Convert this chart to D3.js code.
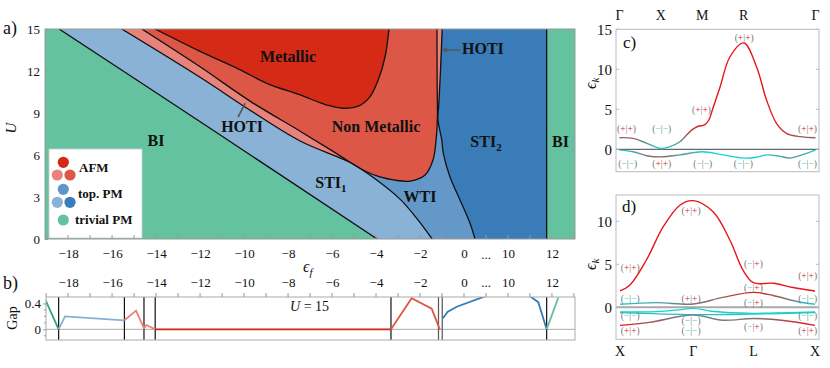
<!DOCTYPE html>
<html><head><meta charset="utf-8">
<script src="https://cdn.jsdelivr.net/npm/d3@7"></script>
<style>body{margin:0;background:#fff}svg{display:block}text{font-family:"Liberation Serif",serif;fill:#111}</style>
</head><body><svg id="c" width="830" height="368"></svg>
<script>
// ---------- DATA ----------
const epsTicks = [-18,-16,-14,-12,-10,-8,-6,-4,-2,0,10,12];
const epsMinor = [-19,-18,-17,-16,-15,-14,-13,-12,-11,-10,-9,-8,-7,-6,-5,-4,-3,-2,-1,0,1,10,11,12,13];
const uTicks = [0,3,6,9,12,15];
const gapTicks = [0,0.4];
const gapMinor = [-0.1,0.1,0.2,0.3];

// phase boundaries (eps_f, U)
const bndA = [[-18.41,15],[-11.2,7.55],[-3.95,0]];
const bndB = [[-15.56,15],[-12.0,11.55],[-9.73,9.2],[-7.45,7.0],[-5.15,5.45]];
const bndB2 = [[-4.41,4.71],[-2.91,2.85],[-2.14,1.45],[-1.45,0]];
const bndC = [[-14.65,15],[-12.0,12.3],[-9.73,9.85],[-7.45,7.7],[-6.1,6.4],[-5.15,5.45]];
const bndD = [[-14.05,15],[-12.0,13.4],[-10.2,12.1],[-8.97,11.12],[-7.45,10.29],[-6.24,9.57],[-5.5,9.34],[-4.73,9.55],[-4.27,10.17],[-3.9,11.36],[-3.59,13.0],[-3.41,15]];
const bndRedLow = [[-5.15,5.45],[-4.5,4.86],[-3.82,4.43],[-3.14,4.2],[-2.45,4.14],[-1.77,4.57],[-1.41,5.64],[-1.27,7.07],[-1.21,8.6]];
const bndRedHigh = [[-1.21,8.6],[-1.22,11],[-1.23,15]];
const bndSTI2Top = [[-0.99,15],[-1.07,12],[-1.15,9.5],[-1.19,8.6]];
const bndSTI2Bot = [[-1.19,8.6],[-1.01,7.07],[-0.94,6.12],[-0.64,4.45],[-0.18,2.79],[0.27,1.14],[0.5,0]];
const bndBIright = 11.76;

const regionLabels = [
  {t:"Metallic", e:-8.0, u:12.64},
  {t:"Non Metallic", e:-4.0, u:7.64},
  {t:"STI", s:"2", e:1.0, u:6.57},
  {t:"BI", e:12.39, u:6.57},
  {t:"BI", e:-14.0, u:6.64},
  {t:"HOTI", e:-10.09, u:7.64},
  {t:"HOTI", e:0.86, u:13.21},
  {t:"STI", s:"1", e:-6.05, u:3.64},
  {t:"WTI", e:-2.0, u:2.64}
];

// gap at U = 15
const gapGreenL = [[-19.05,0.47],[-18.43,0]];
const gapBlueL = [[-18.43,0],[-18.14,0.2],[-15.44,0.14]];
const gapPink = [[-15.44,0.14],[-14.91,0.29],[-14.55,0.015],[-14.44,0.066],[-14.04,0]];
const gapMet = [[-14.04,0],[-3.32,0]];
const gapRed = [[-3.32,0],[-2.38,0.48],[-1.47,0.32],[-1.1,0]];
const gapBlue2 = [[-0.96,0.17],[-0.75,0.27],[-0.33,0.35],[0.95,0.51]];
const gapBlue3 = [[11.0,0.51],[11.38,0.42],[11.76,0]];
const gapGreenR = [[11.76,0],[12.29,0.49]];
const gapDividers = [-18.43,-15.44,-14.55,-14.04,-3.32,-1.16,-0.99,11.76];

// band structures [k, E, redWeight]
const kLabelsC = ["Γ","X","M","R","Γ"];
const kPosC = [0,1,2,3,4.732];
const bandC1 = [[0,1.45,0.62],[0.33,1.37,0.55],[0.66,0.75,0.3],[1.0,0.1,0],[1.2,0.3,0.1],[1.46,0.95,0.35],[1.74,2.4,0.8],[1.9,2.88,1],[2.05,3.05,1],[2.15,3.6,1],[2.26,5.2,1],[2.43,7.83,1],[2.67,11.6,1],[3.0,13.3,1],[3.31,10.3,1],[3.55,6.16,1],[3.79,3.25,0.95],[4.03,2.0,0.8],[4.36,1.58,0.65],[4.732,1.45,0.62]];
const bandC2 = [[0,-0.1,0],[0.33,-0.3,0.2],[0.66,-0.8,0.5],[1.0,-0.95,0.6],[1.46,-0.7,0.3],[2.0,-0.3,0],[2.5,-0.7,0],[3.0,-1.1,0],[3.3,-1.0,0],[3.55,-0.7,0.05],[3.85,-0.85,0.2],[4.11,-1.1,0.4],[4.4,-0.7,0.2],[4.732,-0.1,0]];
const parityC = [[0.17,2.6,"+","+"],[1.02,2.6,"−","−"],[1.98,5.0,"+","+"],[3.01,13.9,"+","+"],[4.54,2.6,"+","+"],
  [0.2,-1.84,"−","−"],[1.02,-1.84,"+","+"],[2.01,-1.84,"−","−"],[2.99,-1.84,"−","−"],[4.54,-1.84,"−","−"]];
const yTicksC = [0,5,10,15];

const kLabelsD = ["X","Γ","L","X"];
const kPosD = [0,1,1.82,2.66];
const bandD1 = [[0,1.9,1],[0.136,2.6,1],[0.36,5.5,1],[0.59,9.37,1],[0.82,11.9,1],[1.0,12.4,1],[1.27,11.1,1],[1.5,7.8,1],[1.68,4.3,1],[1.82,2.86,1],[2.09,2.8,1],[2.36,2.3,1],[2.66,1.9,1]];
const bandD2 = [[0,0.35,0],[0.5,0.55,0.25],[1.0,0.38,0.5],[1.4,1.15,0.6],[1.82,1.74,1],[2.1,1.35,0.7],[2.4,0.7,0.3],[2.66,0.35,0]];
const bandD3 = [[0,-0.55,0],[0.5,-0.5,0],[0.8,-0.3,0],[1.0,-0.12,0],[1.25,-0.45,0],[1.82,-0.7,0],[2.3,-0.62,0],[2.66,-0.55,0]];
const bandD5 = [[0,-0.62,0.05],[1.0,-0.85,0.15],[1.82,-0.78,0.05],[2.66,-0.62,0.05]];
const bandD4 = [[0,-2.1,1],[0.4,-1.75,0.7],[1.0,-0.9,0.3],[1.4,-1.5,0.45],[1.82,-1.3,0.5],[2.2,-1.5,0.7],[2.66,-2.1,1]];
const parityD = [[0.14,4.65,"+","+"],[0.97,11.23,"+","+"],[1.82,5.03,"−","+"],[2.56,3.67,"+","+"],[1.82,2.33,"−","+"],
  [0.14,0.97,"−","−"],[0.97,1.05,"+","+"],[1.82,0.58,"−","+"],[2.56,0.97,"−","−"],
  [0.14,-1.01,"−","−"],[0.97,-1.56,"−","−"],[1.82,-2.26,"−","+"],[2.56,-1.01,"−","−"],
  [0.14,-2.72,"+","+"],[0.97,-2.72,"−","−"],[2.56,-2.72,"+","+"]];
const yTicksD = [0,5,10];

// ---------- STYLE ----------
const COL = {green:"#64c2a0", sti1:"#89b2d6", wti:"#6498c8", sti2:"#3a7cb8", hoti:"#e8827a", nonmet:"#dd5747", met:"#d42a16"};
const RED = "#e5161c", CYAN = "#19d0d0", PGRAY = "#777";
const bandColor = d3.interpolateRgb(CYAN, RED);

const svg = d3.select("#c");
const defs = svg.append("defs");

// ---------- PANEL A ----------
const xA = d3.scaleLinear().domain([-19.05,1,9,13.05]).range([45,486,486,575]);
const yA = d3.scaleLinear().domain([0,15]).range([239,29]);
const lg = d3.line().x(d=>xA(d[0])).y(d=>yA(d[1])).curve(d3.curveCatmullRom.alpha(0.5));
const P = (e,u)=>"L"+xA(e)+","+yA(u);
const cont = pts => "L"+lg(pts).slice(1);
const rev = a => a.slice().reverse();

defs.append("clipPath").attr("id","clipA").append("rect").attr("x",45).attr("y",29).attr("width",530).attr("height",210);
const gA = svg.append("g").attr("clip-path","url(#clipA)");
gA.append("rect").attr("x",45).attr("y",29).attr("width",530).attr("height",210).attr("fill",COL.green);
const bFull = bndB.concat(bndB2);
gA.append("path").attr("fill",COL.sti1).attr("d", lg(bndA)+P(bndBIright,0)+P(bndBIright,15)+"Z");
gA.append("path").attr("fill",COL.wti).attr("d", lg(bFull)+P(bndBIright,0)+P(bndBIright,15)+"Z");
gA.append("path").attr("fill",COL.hoti).attr("d", lg(bndB)+cont(bndRedLow)+cont(rev(bndSTI2Top))+"Z");
gA.append("path").attr("fill",COL.nonmet).attr("d", lg(bndC)+cont(bndRedLow)+cont(bndRedHigh)+"Z");
gA.append("path").attr("fill",COL.met).attr("d", lg(bndD)+"Z");
gA.append("path").attr("fill",COL.sti2).attr("d", lg(bndSTI2Top)+cont(bndSTI2Bot)+P(bndBIright,0)+P(bndBIright,15)+"Z");
gA.append("rect").attr("x",xA(bndBIright)).attr("y",29).attr("width",575-xA(bndBIright)).attr("height",210).attr("fill",COL.green);
const lines = [bndA, bFull, bndC, bndD, bndRedLow.concat(bndRedHigh.slice(1)), bndSTI2Top.concat(bndSTI2Bot.slice(1))];
lines.forEach(l=>gA.append("path").attr("d",lg(l)).attr("fill","none").attr("stroke","#111").attr("stroke-width",1.3));
gA.append("line").attr("x1",xA(bndBIright)).attr("x2",xA(bndBIright)).attr("y1",29).attr("y2",239).attr("stroke","#111").attr("stroke-width",1.3);

// region labels
regionLabels.forEach(r=>{
  const t = gA.append("text").attr("x",xA(r.e)).attr("y",yA(r.u)).attr("text-anchor","middle")
    .attr("font-size",16).attr("font-weight","bold");
  t.append("tspan").text(r.t);
  if(r.s) t.append("tspan").attr("dy",4).attr("font-size",11).text(r.s);
});
// HOTI pointers
gA.append("line").attr("x1",xA(-10.27)).attr("y1",yA(8.71)).attr("x2",xA(-9.95)).attr("y2",yA(9.71)).attr("stroke","#555").attr("stroke-width",1.6);
gA.append("line").attr("x1",xA(-0.18)).attr("y1",yA(13.5)).attr("x2",xA(-0.9)).attr("y2",yA(13.5)).attr("stroke","#555").attr("stroke-width",1.4);
gA.append("path").attr("d",`M${xA(-1.02)},${yA(13.5)}l5,-2.5l0,5z`).attr("fill","#555");

// legend
const lgG = svg.append("g");
lgG.append("rect").attr("x",49).attr("y",149).attr("width",93).attr("height",89).attr("fill","#fff").attr("stroke","#ccc").attr("stroke-width",0.8);
const circ = (cx,cy,c)=>lgG.append("circle").attr("cx",cx).attr("cy",cy).attr("r",5.6).attr("fill",c);
circ(63.3,162.3,COL.met); circ(57.3,175,COL.hoti); circ(70,175,COL.nonmet);
circ(63.3,189.3,"#5f97cb"); circ(57.3,202.3,COL.sti1); circ(70,202.3,COL.sti2);
circ(63.3,220,COL.green);
const ltxt=(x,y,s)=>lgG.append("text").attr("x",x).attr("y",y).attr("font-size",13).attr("font-weight","bold").text(s);
ltxt(79,172,"AFM"); ltxt(78,198,"top. PM"); ltxt(75,224,"trivial PM");

// frame + axes A
svg.append("rect").attr("x",45).attr("y",29).attr("width",530).attr("height",210).attr("fill","none").attr("stroke","#999").attr("stroke-width",1);
const axA = svg.append("g").attr("transform","translate(0,239)")
  .call(d3.axisBottom(xA).tickValues(epsTicks).tickSize(0).tickPadding(10));
axA.select(".domain").remove();
axA.selectAll("text").attr("font-size",13).attr("font-family","Liberation Serif");
svg.append("g").selectAll("line").data(epsMinor).join("line")
  .attr("x1",d=>xA(d)).attr("x2",d=>xA(d)).attr("y1",239).attr("y2",235).attr("stroke","#999");
svg.append("text").attr("x",xA(1)).attr("y",259).attr("text-anchor","middle").attr("font-size",13).text("...");
const ayA = svg.append("g").attr("transform","translate(45,0)")
  .call(d3.axisLeft(yA).tickValues(uTicks).tickSize(-3).tickPadding(5));
ayA.select(".domain").remove();
ayA.selectAll("line").attr("stroke","#999");
ayA.selectAll("text").attr("font-size",13).attr("font-family","Liberation Serif");
svg.append("text").attr("transform","translate(16,128) rotate(-90)").attr("text-anchor","middle").attr("font-size",15).attr("font-style","italic").text("U");
const ef = svg.append("text").attr("x",303).attr("y",272).attr("font-size",16).attr("font-style","italic");
ef.append("tspan").text("ϵ"); ef.append("tspan").attr("dy",4).attr("font-size",11).text("f");
svg.append("text").attr("x",3).attr("y",34).attr("font-size",18).text("a)");

// ---------- PANEL B ----------
const yB = d3.scaleLinear().domain([-0.165,0.5]).range([340,297]);
const lgB = d3.line().x(d=>xA(d[0])).y(d=>yB(d[1]));
defs.append("clipPath").attr("id","clipB").append("rect").attr("x",46).attr("y",297).attr("width",529).attr("height",43);
const gB = svg.append("g").attr("clip-path","url(#clipB)");
gB.append("line").attr("x1",46).attr("x2",575).attr("y1",yB(0)).attr("y2",yB(0)).attr("stroke","#aaa").attr("stroke-width",1);
gB.selectAll(".div").data(gapDividers).join("line").attr("x1",d=>xA(d)).attr("x2",d=>xA(d)).attr("y1",297).attr("y2",340)
  .attr("stroke",(d,i)=>(i===5||i===6)?"#555":"#111").attr("stroke-width",1.2);
[[gapGreenL,"#2fa27a"],[gapBlueL,"#86b0d6"],[gapPink,"#e8827a"],[gapMet,"#d42a16"],[gapRed,"#dd5747"],
 [gapBlue2,"#3a7cb8"],[gapBlue3,"#3a7cb8"],[gapGreenR,"#64c2a0"]].forEach(([d,c])=>
  gB.append("path").attr("d",lgB(d)).attr("fill","none").attr("stroke",c).attr("stroke-width",1.8));
svg.append("rect").attr("x",46).attr("y",297).attr("width",529).attr("height",43).attr("fill","none").attr("stroke","#aaa");
const axB = svg.append("g").attr("transform","translate(0,297)")
  .call(d3.axisTop(xA).tickValues(epsTicks).tickSize(0).tickPadding(10));
axB.select(".domain").remove();
axB.selectAll("text").attr("font-size",13).attr("font-family","Liberation Serif");
svg.append("g").selectAll("line").data(epsMinor).join("line")
  .attr("x1",d=>xA(d)).attr("x2",d=>xA(d)).attr("y1",297).attr("y2",293).attr("stroke","#999");
svg.append("text").attr("x",xA(1)).attr("y",287).attr("text-anchor","middle").attr("font-size",13).text("...");
const ayB = svg.append("g").attr("transform","translate(46,0)")
  .call(d3.axisLeft(yB).tickValues(gapTicks).tickSize(3).tickPadding(2).tickFormat(d=>d===0?"0":d));
ayB.select(".domain").remove();
ayB.selectAll("line").attr("stroke","#999");
ayB.selectAll("text").attr("font-size",13).attr("font-family","Liberation Serif");
svg.append("g").selectAll("line").data(gapMinor).join("line")
  .attr("x1",44).attr("x2",46).attr("y1",d=>yB(d)).attr("y2",d=>yB(d)).attr("stroke","#999");
svg.append("text").attr("transform","translate(17,318) rotate(-90)").attr("text-anchor","middle").attr("font-size",14).text("Gap");
const u15 = svg.append("text").attr("x",290).attr("y",311).attr("font-size",14);
u15.append("tspan").attr("font-style","italic").text("U"); u15.append("tspan").text(" = 15");
svg.append("text").attr("x",3).attr("y",289).attr("font-size",18).text("b)");

// ---------- BAND PANELS ----------
function bandPanel(id, xs, ys, bands, parity, kLabels, kPos, yTicks, box, zeroStyle, tag, labelY, tagPos){
  const g = svg.append("g");
  g.append("rect").attr("x",box[0]).attr("y",box[1]).attr("width",box[2]-box[0]).attr("height",box[3]-box[1]).attr("fill","none").attr("stroke","#bbb");
  g.append("line").attr("x1",box[0]).attr("x2",box[2]).attr("y1",ys(0)).attr("y2",ys(0)).attr("stroke",zeroStyle[0]).attr("stroke-width",zeroStyle[1]);
  const kmax = kPos[kPos.length-1];
  const line = d3.line().x(d=>xs(d[0])).y(d=>ys(d[1])).curve(d3.curveCatmullRom.alpha(0.5));
  bands.forEach((b,i)=>{
    const gid = id+"g"+i;
    const gr = defs.append("linearGradient").attr("id",gid).attr("gradientUnits","userSpaceOnUse")
      .attr("x1",xs(0)).attr("x2",xs(kmax)).attr("y1",0).attr("y2",0);
    b.forEach(p=>gr.append("stop").attr("offset",p[0]/kmax).attr("stop-color",bandColor(p[2])));
    g.append("path").attr("d",line(b)).attr("fill","none").attr("stroke",`url(#${gid})`).attr("stroke-width",1.4);
  });
  parity.forEach(p=>{
    const t = g.append("text").attr("x",xs(p[0])).attr("y",ys(p[1])).attr("dy","0.35em").attr("text-anchor","middle").attr("font-size",9.5);
    t.append("tspan").attr("fill",PGRAY).text("(");
    t.append("tspan").attr("fill",p[2]==="+"?RED:CYAN).text(p[2]);
    t.append("tspan").attr("fill",PGRAY).text("|");
    t.append("tspan").attr("fill",p[3]==="+"?RED:CYAN).text(p[3]);
    t.append("tspan").attr("fill",PGRAY).text(")");
  });
  g.selectAll(".kl").data(kLabels).join("text").attr("x",(d,i)=>xs(kPos[i])).attr("y",labelY).attr("text-anchor","middle").attr("font-size",14).text(d=>d);
  yTicks.forEach(v=>{
    g.append("text").attr("x",box[0]-4).attr("y",ys(v)).attr("dy","0.35em").attr("text-anchor","end").attr("font-size",15).text(v);
    g.append("line").attr("x1",box[0]).attr("x2",box[0]+3).attr("y1",ys(v)).attr("y2",ys(v)).attr("stroke","#bbb");
    g.append("line").attr("x1",box[2]-3).attr("x2",box[2]).attr("y1",ys(v)).attr("y2",ys(v)).attr("stroke","#bbb");
  });
  const yl = g.append("text").attr("transform",`translate(${box[0]-20},${(ys(yTicks[yTicks.length-1])+ys(yTicks[0]))/2+ (id==="c"?-6:0)}) rotate(-90)`).attr("text-anchor","middle").attr("font-size",16).attr("font-style","italic");
  yl.append("tspan").text("ϵ"); yl.append("tspan").attr("dy",3).attr("font-size",11).text("k");
  g.append("text").attr("x",tagPos[0]).attr("y",tagPos[1]).attr("font-size",17).text(tag);
}
const xC = d3.scaleLinear().domain([0,4.732]).range([619.5,815.5]);
const yC = d3.scaleLinear().domain([-2.8,15]).range([171.7,29.3]);
bandPanel("c", xC, yC, [bandC1,bandC2], parityC, kLabelsC, kPosC, yTicksC, [616,29.3,819,171.7], ["#444",1], "c)", 20, [623,48]);
const xD = d3.scaleLinear().domain([0,2.66]).range([620,815]);
const yD = d3.scaleLinear().domain([-3.72,13.06]).range([339.3,195]);
bandPanel("d", xD, yD, [bandD1,bandD2,bandD5,bandD3,bandD4], parityD, kLabelsD, kPosD, yTicksD, [616,195,819,339.3], ["#aaa",2], "d)", 356, [622,212]);
</script></body></html>
